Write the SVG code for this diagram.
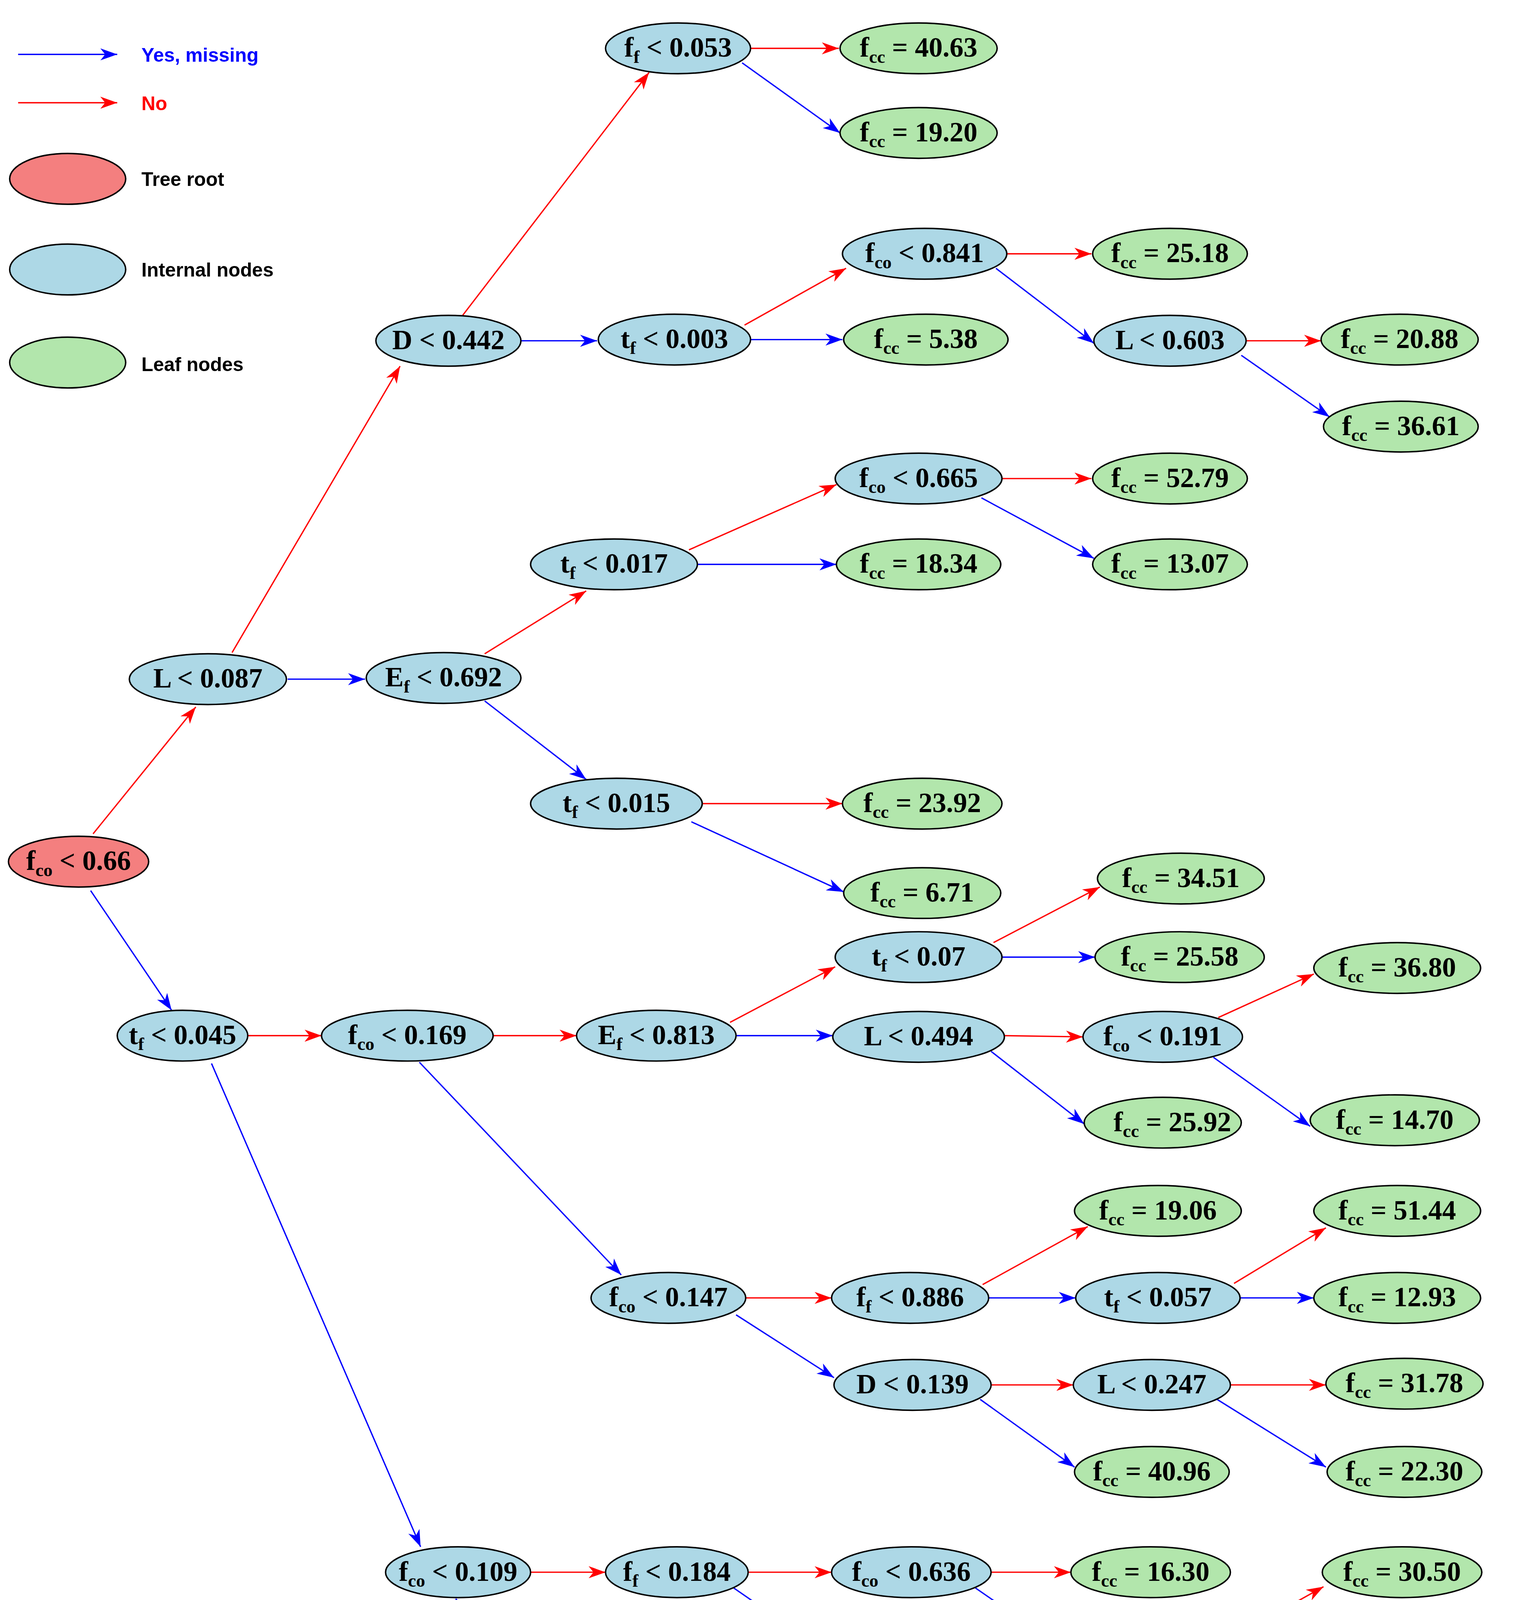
<svg xmlns="http://www.w3.org/2000/svg" width="3929" height="4862" viewBox="0 0 3929 4862">
<style>
.e{stroke:#000;stroke-width:1.2}
.r{fill:#f47f7f}.i{fill:#add8e6}.l{fill:#b2e6ac}
.t{font-family:"Liberation Serif","DejaVu Serif",serif;font-weight:bold;font-size:23px;text-anchor:middle;fill:#000}
.s{font-size:15px}
.lg{font-family:"Liberation Sans",Arial,sans-serif;font-weight:bold;font-size:16px}
.b{stroke:#0000ff;stroke-width:1.1;fill:none;marker-end:url(#mb)}
.d{stroke:#ff0000;stroke-width:1.1;fill:none;marker-end:url(#mr)}
</style>
<defs>
<marker id="mb" markerUnits="userSpaceOnUse" markerWidth="15" markerHeight="10" refX="14" refY="5" orient="auto"><path d="M0,0 L14,5 L0,10 L4,5 z" fill="#0000ff"/></marker>
<marker id="mr" markerUnits="userSpaceOnUse" markerWidth="15" markerHeight="10" refX="14" refY="5" orient="auto"><path d="M0,0 L14,5 L0,10 L4,5 z" fill="#ff0000"/></marker>
</defs>
<rect width="3929" height="4862" fill="#fff"/>
<g transform="scale(3.0937)">
<g id="legend">
<line x1="15" y1="45" x2="97" y2="45" class="b"/><text x="117" y="51" class="lg" fill="#0000ff">Yes, missing</text>
<line x1="15" y1="85" x2="97" y2="85" class="d"/><text x="117" y="91" class="lg" fill="#ff0000">No</text>
<ellipse cx="56" cy="148" rx="48" ry="21" class="e r"/><text x="117" y="154" class="lg">Tree root</text>
<ellipse cx="56" cy="223" rx="48" ry="21" class="e i"/><text x="117" y="229" class="lg">Internal nodes</text>
<ellipse cx="56" cy="300" rx="48" ry="21" class="e l"/><text x="117" y="307" class="lg">Leaf nodes</text>
</g>
<g id="edges">
<line x1="77" y1="690" x2="162" y2="585" class="d"/>
<line x1="75" y1="737" x2="142" y2="836" class="b"/>
<line x1="192" y1="540" x2="331" y2="303" class="d"/>
<line x1="238" y1="562" x2="302" y2="562" class="b"/>
<line x1="382" y1="262" x2="537" y2="60" class="d"/>
<line x1="431" y1="282" x2="494" y2="282" class="b"/>
<line x1="621" y1="40" x2="694" y2="40" class="d"/>
<line x1="614" y1="52" x2="695" y2="110" class="b"/>
<line x1="616" y1="269" x2="700" y2="222" class="d"/>
<line x1="621" y1="281" x2="697" y2="281" class="b"/>
<line x1="833" y1="210" x2="903" y2="210" class="d"/>
<line x1="824" y1="222" x2="905" y2="284" class="b"/>
<line x1="1031" y1="282" x2="1093" y2="282" class="d"/>
<line x1="1027" y1="294" x2="1100" y2="345" class="b"/>
<line x1="401" y1="541" x2="485" y2="489" class="d"/>
<line x1="401" y1="580" x2="485" y2="645" class="b"/>
<line x1="570" y1="455" x2="692" y2="401" class="d"/>
<line x1="577" y1="467" x2="692" y2="467" class="b"/>
<line x1="829" y1="396" x2="903" y2="396" class="d"/>
<line x1="812" y1="412" x2="905" y2="462" class="b"/>
<line x1="581" y1="665" x2="697" y2="665" class="d"/>
<line x1="572" y1="680" x2="698" y2="738" class="b"/>
<line x1="205" y1="857" x2="266" y2="857" class="d"/>
<line x1="175" y1="880" x2="348" y2="1280" class="b"/>
<line x1="408" y1="857" x2="477" y2="857" class="d"/>
<line x1="347" y1="879" x2="514" y2="1055" class="b"/>
<line x1="604" y1="846" x2="691" y2="800" class="d"/>
<line x1="609" y1="857" x2="689" y2="857" class="b"/>
<line x1="822" y1="780" x2="910" y2="734" class="d"/>
<line x1="829" y1="792" x2="906" y2="792" class="b"/>
<line x1="831" y1="857" x2="896" y2="858" class="d"/>
<line x1="820" y1="870" x2="897" y2="930" class="b"/>
<line x1="1008" y1="842" x2="1087" y2="806" class="d"/>
<line x1="1004" y1="875" x2="1084" y2="932" class="b"/>
<line x1="617" y1="1074" x2="688" y2="1074" class="d"/>
<line x1="609" y1="1088" x2="690" y2="1140" class="b"/>
<line x1="813" y1="1063" x2="900" y2="1015" class="d"/>
<line x1="818" y1="1074" x2="890" y2="1074" class="b"/>
<line x1="1021" y1="1062" x2="1097" y2="1016" class="d"/>
<line x1="1026" y1="1074" x2="1087" y2="1074" class="b"/>
<line x1="820" y1="1146" x2="888" y2="1146" class="d"/>
<line x1="811" y1="1158" x2="889" y2="1214" class="b"/>
<line x1="1018" y1="1146" x2="1097" y2="1146" class="d"/>
<line x1="1007" y1="1158" x2="1097" y2="1214" class="b"/>
<line x1="439" y1="1301" x2="501" y2="1301" class="d"/>
<line x1="377" y1="1323" x2="492" y2="1446" class="b"/>
<line x1="619" y1="1301" x2="688" y2="1301" class="d"/>
<line x1="607" y1="1314" x2="688" y2="1370" class="b"/>
<line x1="820" y1="1301" x2="886" y2="1301" class="d"/>
<line x1="807" y1="1314" x2="888" y2="1370" class="b"/>
<line x1="1009" y1="1361" x2="1095" y2="1313" class="d"/>
<line x1="1015" y1="1373" x2="1092" y2="1373" class="b"/>
<line x1="629" y1="1454" x2="699" y2="1454" class="d"/>
<line x1="620" y1="1467" x2="698" y2="1522" class="b"/>
<line x1="829" y1="1454" x2="901" y2="1454" class="d"/>
<line x1="820" y1="1467" x2="901" y2="1522" class="b"/>
</g>
<g id="n_root"><ellipse cx="65" cy="713" rx="58" ry="21" class="e r"/><text x="65" y="720" class="t">f<tspan class="s" dy="5">co</tspan><tspan dy="-5"> &lt; 0.66</tspan></text></g>
<g id="n_L087"><ellipse cx="172" cy="562" rx="65" ry="21" class="e i"/><text x="172" y="569" class="t">L &lt; 0.087</text></g>
<g id="n_tf045"><ellipse cx="151" cy="857" rx="54" ry="21" class="e i"/><text x="151" y="864" class="t">t<tspan class="s" dy="5">f</tspan><tspan dy="-5"> &lt; 0.045</tspan></text></g>
<g id="n_D442"><ellipse cx="371" cy="282" rx="60" ry="21" class="e i"/><text x="371" y="289" class="t">D &lt; 0.442</text></g>
<g id="n_Ef692"><ellipse cx="367" cy="561" rx="64" ry="21" class="e i"/><text x="367" y="568" class="t">E<tspan class="s" dy="5">f</tspan><tspan dy="-5"> &lt; 0.692</tspan></text></g>
<g id="n_ff053"><ellipse cx="561" cy="40" rx="60" ry="21" class="e i"/><text x="561" y="47" class="t">f<tspan class="s" dy="5">f</tspan><tspan dy="-5"> &lt; 0.053</tspan></text></g>
<g id="n_tf003"><ellipse cx="558" cy="281" rx="63" ry="21" class="e i"/><text x="558" y="288" class="t">t<tspan class="s" dy="5">f</tspan><tspan dy="-5"> &lt; 0.003</tspan></text></g>
<g id="n_l4063"><ellipse cx="760" cy="40" rx="65" ry="21" class="e l"/><text x="760" y="47" class="t">f<tspan class="s" dy="5">cc</tspan><tspan dy="-5"> = 40.63</tspan></text></g>
<g id="n_l1920"><ellipse cx="760" cy="110" rx="65" ry="21" class="e l"/><text x="760" y="117" class="t">f<tspan class="s" dy="5">cc</tspan><tspan dy="-5"> = 19.20</tspan></text></g>
<g id="n_fco841"><ellipse cx="765" cy="210" rx="68" ry="21" class="e i"/><text x="765" y="217" class="t">f<tspan class="s" dy="5">co</tspan><tspan dy="-5"> &lt; 0.841</tspan></text></g>
<g id="n_l538"><ellipse cx="766" cy="281" rx="68" ry="21" class="e l"/><text x="766" y="288" class="t">f<tspan class="s" dy="5">cc</tspan><tspan dy="-5"> = 5.38</tspan></text></g>
<g id="n_l2518"><ellipse cx="968" cy="210" rx="64" ry="21" class="e l"/><text x="968" y="217" class="t">f<tspan class="s" dy="5">cc</tspan><tspan dy="-5"> = 25.18</tspan></text></g>
<g id="n_L603"><ellipse cx="968" cy="282" rx="63" ry="21" class="e i"/><text x="968" y="289" class="t">L &lt; 0.603</text></g>
<g id="n_l2088"><ellipse cx="1158" cy="281" rx="65" ry="21" class="e l"/><text x="1158" y="288" class="t">f<tspan class="s" dy="5">cc</tspan><tspan dy="-5"> = 20.88</tspan></text></g>
<g id="n_l3661"><ellipse cx="1159" cy="353" rx="64" ry="21" class="e l"/><text x="1159" y="360" class="t">f<tspan class="s" dy="5">cc</tspan><tspan dy="-5"> = 36.61</tspan></text></g>
<g id="n_tf017a"><ellipse cx="508" cy="467" rx="69" ry="21" class="e i"/><text x="508" y="474" class="t">t<tspan class="s" dy="5">f</tspan><tspan dy="-5"> &lt; 0.017</tspan></text></g>
<g id="n_fco665"><ellipse cx="760" cy="396" rx="69" ry="21" class="e i"/><text x="760" y="403" class="t">f<tspan class="s" dy="5">co</tspan><tspan dy="-5"> &lt; 0.665</tspan></text></g>
<g id="n_l1834"><ellipse cx="760" cy="467" rx="68" ry="21" class="e l"/><text x="760" y="474" class="t">f<tspan class="s" dy="5">cc</tspan><tspan dy="-5"> = 18.34</tspan></text></g>
<g id="n_l5279"><ellipse cx="968" cy="396" rx="64" ry="21" class="e l"/><text x="968" y="403" class="t">f<tspan class="s" dy="5">cc</tspan><tspan dy="-5"> = 52.79</tspan></text></g>
<g id="n_l1307"><ellipse cx="968" cy="467" rx="64" ry="21" class="e l"/><text x="968" y="474" class="t">f<tspan class="s" dy="5">cc</tspan><tspan dy="-5"> = 13.07</tspan></text></g>
<g id="n_tf015"><ellipse cx="510" cy="665" rx="71" ry="21" class="e i"/><text x="510" y="672" class="t">t<tspan class="s" dy="5">f</tspan><tspan dy="-5"> &lt; 0.015</tspan></text></g>
<g id="n_l2392"><ellipse cx="763" cy="665" rx="66" ry="21" class="e l"/><text x="763" y="672" class="t">f<tspan class="s" dy="5">cc</tspan><tspan dy="-5"> = 23.92</tspan></text></g>
<g id="n_l671"><ellipse cx="763" cy="739" rx="65" ry="21" class="e l"/><text x="763" y="746" class="t">f<tspan class="s" dy="5">cc</tspan><tspan dy="-5"> = 6.71</tspan></text></g>
<g id="n_fco169"><ellipse cx="337" cy="857" rx="71" ry="21" class="e i"/><text x="337" y="864" class="t">f<tspan class="s" dy="5">co</tspan><tspan dy="-5"> &lt; 0.169</tspan></text></g>
<g id="n_Ef813"><ellipse cx="543" cy="857" rx="66" ry="21" class="e i"/><text x="543" y="864" class="t">E<tspan class="s" dy="5">f</tspan><tspan dy="-5"> &lt; 0.813</tspan></text></g>
<g id="n_tf07"><ellipse cx="760" cy="792" rx="69" ry="21" class="e i"/><text x="760" y="799" class="t">t<tspan class="s" dy="5">f</tspan><tspan dy="-5"> &lt; 0.07</tspan></text></g>
<g id="n_L494"><ellipse cx="760" cy="858" rx="71" ry="21" class="e i"/><text x="760" y="865" class="t">L &lt; 0.494</text></g>
<g id="n_l3451"><ellipse cx="977" cy="727" rx="69" ry="21" class="e l"/><text x="977" y="734" class="t">f<tspan class="s" dy="5">cc</tspan><tspan dy="-5"> = 34.51</tspan></text></g>
<g id="n_l2558"><ellipse cx="976" cy="792" rx="70" ry="21" class="e l"/><text x="976" y="799" class="t">f<tspan class="s" dy="5">cc</tspan><tspan dy="-5"> = 25.58</tspan></text></g>
<g id="n_fco191"><ellipse cx="962" cy="858" rx="66" ry="21" class="e i"/><text x="962" y="865" class="t">f<tspan class="s" dy="5">co</tspan><tspan dy="-5"> &lt; 0.191</tspan></text></g>
<g id="n_l2592"><ellipse cx="962" cy="929" rx="65" ry="21" class="e l"/><text x="970" y="936" class="t">f<tspan class="s" dy="5">cc</tspan><tspan dy="-5"> = 25.92</tspan></text></g>
<g id="n_l3680"><ellipse cx="1156" cy="801" rx="69" ry="21" class="e l"/><text x="1156" y="808" class="t">f<tspan class="s" dy="5">cc</tspan><tspan dy="-5"> = 36.80</tspan></text></g>
<g id="n_l1470"><ellipse cx="1154" cy="927" rx="70" ry="21" class="e l"/><text x="1154" y="934" class="t">f<tspan class="s" dy="5">cc</tspan><tspan dy="-5"> = 14.70</tspan></text></g>
<g id="n_fco147"><ellipse cx="553" cy="1074" rx="64" ry="21" class="e i"/><text x="553" y="1081" class="t">f<tspan class="s" dy="5">co</tspan><tspan dy="-5"> &lt; 0.147</tspan></text></g>
<g id="n_ff886"><ellipse cx="753" cy="1074" rx="65" ry="21" class="e i"/><text x="753" y="1081" class="t">f<tspan class="s" dy="5">f</tspan><tspan dy="-5"> &lt; 0.886</tspan></text></g>
<g id="n_l1906"><ellipse cx="958" cy="1002" rx="69" ry="21" class="e l"/><text x="958" y="1009" class="t">f<tspan class="s" dy="5">cc</tspan><tspan dy="-5"> = 19.06</tspan></text></g>
<g id="n_tf057"><ellipse cx="958" cy="1074" rx="68" ry="21" class="e i"/><text x="958" y="1081" class="t">t<tspan class="s" dy="5">f</tspan><tspan dy="-5"> &lt; 0.057</tspan></text></g>
<g id="n_l5144"><ellipse cx="1156" cy="1002" rx="69" ry="21" class="e l"/><text x="1156" y="1009" class="t">f<tspan class="s" dy="5">cc</tspan><tspan dy="-5"> = 51.44</tspan></text></g>
<g id="n_l1293"><ellipse cx="1156" cy="1074" rx="69" ry="21" class="e l"/><text x="1156" y="1081" class="t">f<tspan class="s" dy="5">cc</tspan><tspan dy="-5"> = 12.93</tspan></text></g>
<g id="n_D139"><ellipse cx="755" cy="1146" rx="65" ry="21" class="e i"/><text x="755" y="1153" class="t">D &lt; 0.139</text></g>
<g id="n_L247"><ellipse cx="953" cy="1146" rx="65" ry="21" class="e i"/><text x="953" y="1153" class="t">L &lt; 0.247</text></g>
<g id="n_l4096"><ellipse cx="953" cy="1218" rx="64" ry="21" class="e l"/><text x="953" y="1225" class="t">f<tspan class="s" dy="5">cc</tspan><tspan dy="-5"> = 40.96</tspan></text></g>
<g id="n_l3178"><ellipse cx="1162" cy="1145" rx="65" ry="21" class="e l"/><text x="1162" y="1152" class="t">f<tspan class="s" dy="5">cc</tspan><tspan dy="-5"> = 31.78</tspan></text></g>
<g id="n_l2230"><ellipse cx="1162" cy="1218" rx="64" ry="21" class="e l"/><text x="1162" y="1225" class="t">f<tspan class="s" dy="5">cc</tspan><tspan dy="-5"> = 22.30</tspan></text></g>
<g id="n_fco109"><ellipse cx="379" cy="1301" rx="60" ry="21" class="e i"/><text x="379" y="1308" class="t">f<tspan class="s" dy="5">co</tspan><tspan dy="-5"> &lt; 0.109</tspan></text></g>
<g id="n_ff184"><ellipse cx="560" cy="1301" rx="59" ry="21" class="e i"/><text x="560" y="1308" class="t">f<tspan class="s" dy="5">f</tspan><tspan dy="-5"> &lt; 0.184</tspan></text></g>
<g id="n_fco636"><ellipse cx="754" cy="1301" rx="66" ry="21" class="e i"/><text x="754" y="1308" class="t">f<tspan class="s" dy="5">co</tspan><tspan dy="-5"> &lt; 0.636</tspan></text></g>
<g id="n_l3909"><ellipse cx="752" cy="1373" rx="64" ry="21" class="e l"/><text x="752" y="1380" class="t">f<tspan class="s" dy="5">cc</tspan><tspan dy="-5"> = 39.09</tspan></text></g>
<g id="n_l1630"><ellipse cx="952" cy="1301" rx="66" ry="21" class="e l"/><text x="952" y="1308" class="t">f<tspan class="s" dy="5">cc</tspan><tspan dy="-5"> = 16.30</tspan></text></g>
<g id="n_Ef077"><ellipse cx="951" cy="1373" rx="64" ry="21" class="e i"/><text x="951" y="1380" class="t">E<tspan class="s" dy="5">f</tspan><tspan dy="-5"> &lt; 0.077</tspan></text></g>
<g id="n_l3050"><ellipse cx="1160" cy="1301" rx="66" ry="21" class="e l"/><text x="1160" y="1308" class="t">f<tspan class="s" dy="5">cc</tspan><tspan dy="-5"> = 30.50</tspan></text></g>
<g id="n_l1758"><ellipse cx="1160" cy="1373" rx="68" ry="21" class="e l"/><text x="1160" y="1380" class="t">f<tspan class="s" dy="5">cc</tspan><tspan dy="-5"> = 17.58</tspan></text></g>
<g id="n_tf017b"><ellipse cx="560" cy="1454" rx="69" ry="21" class="e i"/><text x="560" y="1461" class="t">t<tspan class="s" dy="5">f</tspan><tspan dy="-5"> &lt; 0.017</tspan></text></g>
<g id="n_tf027"><ellipse cx="764" cy="1454" rx="65" ry="21" class="e i"/><text x="764" y="1461" class="t">t<tspan class="s" dy="5">f</tspan><tspan dy="-5"> &lt; 0.027</tspan></text></g>
<g id="n_l1514"><ellipse cx="965" cy="1454" rx="64" ry="21" class="e l"/><text x="965" y="1461" class="t">f<tspan class="s" dy="5">cc</tspan><tspan dy="-5"> = 15.14</tspan></text></g>
<g id="n_l1090"><ellipse cx="763" cy="1526" rx="65" ry="21" class="e l"/><text x="763" y="1533" class="t">f<tspan class="s" dy="5">cc</tspan><tspan dy="-5"> = 10.90</tspan></text></g>
<g id="n_l2657"><ellipse cx="965" cy="1526" rx="64" ry="21" class="e l"/><text x="965" y="1533" class="t">f<tspan class="s" dy="5">cc</tspan><tspan dy="-5"> = 26.57</tspan></text></g>
</g>
</svg>
